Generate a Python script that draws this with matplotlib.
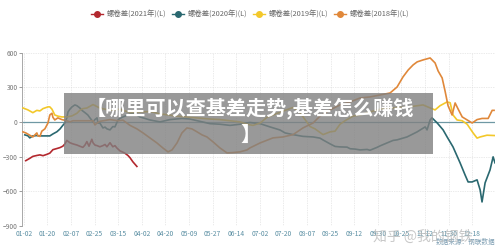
import matplotlib
matplotlib.use("Agg")
import matplotlib.pyplot as plt
from matplotlib.lines import Line2D
from matplotlib.patches import Rectangle

plt.rcParams["font.family"] = ["Noto Sans CJK SC", "DejaVu Sans"]

# category tick labels (one unit per tick on the x axis)
TICK_LABELS = ["01-02", "01-20", "02-07", "02-25", "03-15", "04-02", "04-20",
               "05-09", "05-27", "06-14", "07-02", "07-20", "08-07", "08-25",
               "09-12", "09-30", "10-25", "11-12", "11-30", "12-18"]

# 螺卷差 2021
red_x = [0.08, 0.25, 0.38, 0.55, 0.68, 0.81, 0.98, 1.10, 1.23, 1.40, 1.53, 1.65,
         1.74, 1.82, 1.95, 2.08, 2.25, 2.37, 2.50, 2.59, 2.67, 2.76, 2.88, 2.93,
         3.01, 3.10, 3.22, 3.35, 3.44, 3.52, 3.65, 3.77, 3.86, 3.94, 4.07, 4.20,
         4.28, 4.41, 4.50, 4.62, 4.79]
red_y = [-335, -315, -298, -290, -285, -292, -280, -270, -240, -230, -222, -210,
         -190, -160, -180, -190, -200, -210, -220, -200, -170, -210, -150, -180,
         -200, -205, -215, -205, -195, -215, -180, -215, -205, -225, -250, -262,
         -270, -290, -310, -345, -385]

# 螺卷差 2020
teal_x = [0.04, 0.17, 0.25, 0.38, 0.55, 0.68, 0.98, 1.10, 1.23, 1.40, 1.53, 1.65,
          1.74, 1.82, 1.87, 1.95, 2.04, 2.16, 2.25, 2.37, 2.46, 2.59, 2.71, 2.80,
          2.93, 3.01, 3.10, 3.14, 3.22, 3.35, 3.44, 3.52, 3.65, 3.77, 3.86, 3.99,
          4.07, 4.20, 4.41, 4.62, 4.92, 5.34, 5.77, 6.19, 6.70, 7.04, 7.46, 7.89,
          8.31, 8.74, 9.16, 9.58, 10.01, 10.43, 10.86, 11.07, 11.41, 11.83, 12.26,
          12.55, 12.68, 12.98, 13.19, 13.40, 13.70, 13.83, 14.04, 14.25, 14.55,
          14.67, 14.97, 15.10, 15.39, 15.65, 15.82, 16.24, 16.67, 17.01, 17.09,
          17.22, 17.30, 17.52, 17.77, 17.94, 18.19, 18.49, 18.70, 18.83, 19.00,
          19.21, 19.34, 19.42, 19.55, 19.76, 19.89, 19.97]
teal_y = [-112, -120, -138, -121, -118, -121, -121, -121, -104, -85, -61, -30,
          -9, 35, 86, 110, 130, 147, 140, 121, 100, 80, 60, 35,
          0, 20, 35, -10, -9, -52, -45, -60, -69, -40, -43, 17,
          30, 43, 60, 78, 43, 17, 0, 20, 30, 25, 5, -15,
          -20, -30, -20, -5, -15, -43, -70, -95, -110, -125, -130,
          -140, -156, -190, -212, -216, -218, -232, -235, -242, -238,
          -245, -220, -207, -182, -160, -155, -130, -86, -43, -69,
          17, 35, -9, -69, -130, -216, -354, -458, -519, -519,
          -501, -588, -692, -527, -415, -302, -354]

# 螺卷差 2019
yellow_x = [-0.04, 0.17, 0.38, 0.55, 0.68, 0.81, 1.02, 1.10, 1.19, 1.31, 1.44,
            1.61, 1.82, 2.04, 2.25, 2.37, 2.50, 2.67, 2.93, 3.22, 3.65, 4.07,
            4.50, 5.34, 5.77, 6.49, 7.04, 7.89, 8.31, 8.74, 9.16, 9.46, 9.71,
            10.01, 10.31, 10.56, 11.07, 11.41, 11.70, 11.92, 12.13, 12.34, 12.68,
            12.98, 13.19, 13.40, 13.61, 13.95, 14.25, 14.55, 15.10, 15.52, 16.07,
            16.50, 16.92, 17.22, 17.43, 17.64, 17.94, 18.07, 18.19, 18.36, 18.58,
            18.79, 19.04, 19.21, 19.34, 19.63, 19.97]
yellow_y = [121, 104, 80, 100, 95, 115, 130, 130, 110, 60, 50,
            43, 43, 52, 75, 100, 115, 120, 150, 120, 100, 110,
            80, 90, 70, 50, 40, 25, 20, 10, 0, -20, -30,
            -10, 40, 60, 100, 125, 80, 20, -40, -60, -110,
            -86, -80, -20, 10, 50, 60, 80, 110, 120, 125,
            135, 147, 121, 104, 140, 173, 165, 60, 17, 10,
            -20, -95, -140, -130, -115, -118]

# 螺卷差 2018
orange_x = [-0.04, 0.08, 0.25, 0.38, 0.55, 0.59, 0.68, 0.76, 0.89, 1.02, 1.10,
            1.19, 1.23, 1.31, 1.44, 1.61, 1.82, 1.95, 2.08, 2.50, 2.93, 3.01,
            3.10, 3.22, 3.65, 3.99, 4.20, 4.50, 4.79, 5.05, 5.34, 5.64, 5.89,
            6.11, 6.28, 6.49, 6.70, 6.91, 7.12, 7.34, 7.55, 7.76, 8.02, 8.31,
            8.61, 8.86, 9.16, 9.46, 9.58, 10.01, 10.56, 10.98, 11.41, 11.83,
            12.26, 12.55, 12.85, 12.98, 13.40, 13.83, 14.25, 14.67, 15.10, 15.52,
            15.82, 16.07, 16.29, 16.50, 16.67, 16.92, 17.22, 17.43, 17.56, 17.73,
            17.85, 17.98, 18.15, 18.28, 18.41, 18.58, 18.79, 19.00, 19.21, 19.42,
            19.68, 19.85, 19.93]
orange_y = [-86, -95, -115, -130, -95, -120, -125, -80, -60, -10, 60,
            75, 40, 17, 35, 20, 10, 0, 10, 10, 10, -26,
            -10, 5, 20, 10, 15, -30, -60, -95, -138, -182, -225,
            -259, -242, -182, -95, -52, -60, -86, -112, -130, -173, -225,
            -268, -265, -259, -242, -225, -182, -138, -130, -110, -52,
            -9, 50, 86, 104, 147, 173, 207, 216, 233, 250,
            302, 389, 449, 493, 519, 536, 553, 510, 440, 380,
            270, 140, 60, 164, 110, 43, 17, -9, 20, 30,
            30, 100, 100]

SERIES = [
    ("螺卷差(2021年)(L)", red_x, red_y, "#b3282e"),
    ("螺卷差(2020年)(L)", teal_x, teal_y, "#2a6870"),
    ("螺卷差(2019年)(L)", yellow_x, yellow_y, "#f3c82a"),
    ("螺卷差(2018年)(L)", orange_x, orange_y, "#e0883a"),
]

fig = plt.figure(figsize=(5.0, 2.48), dpi=100)
ax = fig.add_axes([0.044, 0.0887, 0.946, 0.6995])

for name, xs, ys, color in SERIES:
    ax.plot(xs, ys, color=color, lw=1.2, zorder=3)

ax.axhline(0, color="#6f98a4", lw=0.9, zorder=2)
ax.set_xlim(-0.08, 19.97)
ax.set_ylim(-900, 600)
ax.set_yticks([-900, -600, -300, 0, 300, 600])
ax.set_xticks(range(len(TICK_LABELS)))
ax.set_xticklabels(TICK_LABELS)
ax.grid(True, ls=(0, (1, 1.5)), lw=0.5, color="#d6d6d6")
for s in ["top", "right", "bottom"]:
    ax.spines[s].set_visible(False)
ax.spines["left"].set_color("#9a9a9a")
ax.spines["left"].set_linewidth(0.6)
ax.tick_params(axis="y", labelsize=4.8, colors="#777777", length=2, width=0.5, pad=1)
ax.tick_params(axis="x", labelsize=4.8, labelcolor="#5b8fa3", length=0, pad=3)

handles = [Line2D([0], [0], color=c, lw=1, marker="o", markersize=4) for _, _, _, c in SERIES]
fig.legend(handles, [s[0] for s in SERIES], loc="center", bbox_to_anchor=(0.5, 1 - 15 / 248),
           ncol=4, frameon=False, fontsize=5.3, labelcolor="#666666",
           handlelength=1.6, handletextpad=0.5, columnspacing=0.8)

# overlay banner
fig.patches.append(Rectangle((0.128, 0.379), 0.738, 0.246, transform=fig.transFigure,
                             facecolor="#808080", alpha=0.8, zorder=5))
fig.text(0.5, 1 - 108 / 248, "【哪里可以查基差走势,基差怎么赚钱", color="white",
         fontsize=14.5, fontweight="bold", ha="center", va="center", zorder=6)
fig.text(0.5, 1 - 134 / 248, "】", color="white",
         fontsize=14.5, fontweight="bold", ha="center", va="center", zorder=6)

# watermark and source
fig.text(0.845, 0.045, "知乎 @我的钢铁", color="#bbbbbb", alpha=0.8, fontsize=10,
         ha="center", va="center", zorder=7)
fig.text(0.99, 0.025, "数据来源：钢联数据", color="#7f9fb3", fontsize=4.8,
         ha="right", va="center")

fig.savefig("out.png", dpi=100)
